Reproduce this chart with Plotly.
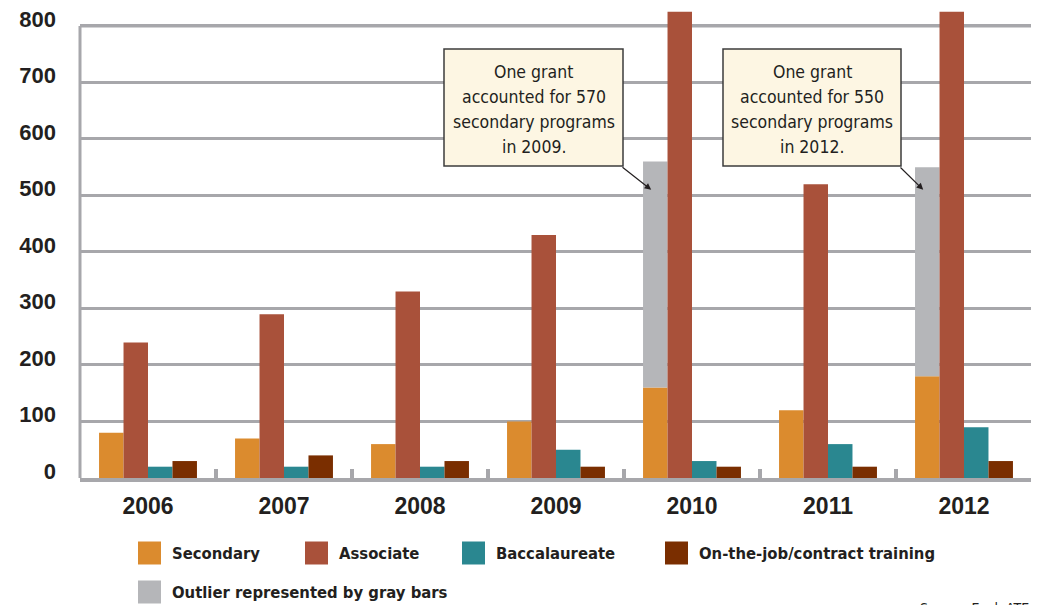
import plotly.graph_objects as go

# Data
YEARS = ['2006', '2007', '2008', '2009', '2010', '2011', '2012']
SECONDARY = [80, 70, 60, 100, 160, 120, 180]
OUTLIER = [None, None, None, None, 400, None, 370]
ASSOCIATE = [240, 290, 330, 430, 825, 520, 825]
BACCALAUREATE = [20, 20, 20, 50, 30, 60, 90]
ON_THE_JOB = [30, 40, 30, 20, 20, 20, 30]
Y_TICKS = [0, 100, 200, 300, 400, 500, 600, 700, 800]

COLORS = {
    'secondary': '#db8b2e',
    'associate': '#a9513a',
    'baccalaureate': '#2a8790',
    'onthejob': '#7a2e00',
    'outlier': '#b5b6b9',
    'grid': '#a7a7ab',
    'text': '#231f20',
    'note_bg': '#fdf6e3',
}

NUM_FONT = 'Liberation Sans, Arial, sans-serif'
TXT_FONT = 'DejaVu Sans Condensed, Liberation Sans, sans-serif'

# page offsets the figure by 8px, so the figure is 8px smaller than the window
W, H = 1031, 597
L, R, T, B = 72, 7, 1, 127
PW, PH = W - L - R, H - T - B
Y_MAX = 830


# helpers: reference-window pixels -> paper coords
def px_x(x):
    return (x - 8 - L) / PW


def px_y(y):
    return (H - B - (y - 8)) / PH


fig = go.Figure()

outlier_base = [s if o is not None else None for s, o in zip(SECONDARY, OUTLIER)]

fig.add_trace(go.Bar(x=YEARS, y=SECONDARY, name='Secondary', offsetgroup='sec',
                     marker_color=COLORS['secondary'], marker_line_width=0))
fig.add_trace(go.Bar(x=YEARS, y=OUTLIER, base=outlier_base, name='Outlier represented by gray bars',
                     offsetgroup='sec', marker_color=COLORS['outlier'], marker_line_width=0))
fig.add_trace(go.Bar(x=YEARS, y=ASSOCIATE, name='Associate', offsetgroup='asc',
                     marker_color=COLORS['associate'], marker_line_width=0))
fig.add_trace(go.Bar(x=YEARS, y=BACCALAUREATE, name='Baccalaureate', offsetgroup='bac',
                     marker_color=COLORS['baccalaureate'], marker_line_width=0))
fig.add_trace(go.Bar(x=YEARS, y=ON_THE_JOB, name='On-the-job/contract training', offsetgroup='ojt',
                     marker_color=COLORS['onthejob'], marker_line_width=0))

fig.update_layout(
    width=W, height=H,
    margin=dict(l=L, r=R, t=T, b=B),
    plot_bgcolor='white', paper_bgcolor='white',
    barmode='group', bargap=0.28, bargroupgap=0,
    showlegend=False,
    font=dict(family=TXT_FONT, color=COLORS['text']),
)

fig.update_yaxes(
    range=[0, Y_MAX], tickvals=Y_TICKS, automargin=False,
    showgrid=True, gridcolor=COLORS['grid'], gridwidth=3,
    zeroline=False, showline=False,
    ticks='', ticklabelstandoff=23, ticklabelshift=-7, ticklabeloverflow='allow',
    tickfont=dict(size=22, family=NUM_FONT, weight='bold', color=COLORS['text']),
)
fig.update_xaxes(
    automargin=False,
    showgrid=False, showline=True, linecolor=COLORS['grid'], linewidth=4,
    ticks='inside', tickson='boundaries', ticklen=9, tickwidth=4, tickcolor=COLORS['grid'],
    ticklabelstandoff=4,
    tickfont=dict(size=23, family=NUM_FONT, weight='bold', color=COLORS['text']),
)

# left axis line and top gridline stop at 800
fig.add_shape(type='line', xref='paper', yref='y', x0=0, x1=0, y0=0, y1=Y_TICKS[-1],
              line=dict(color=COLORS['grid'], width=3), layer='below')
fig.add_shape(type='line', xref='paper', yref='y', x0=0, x1=1, y0=Y_TICKS[-1], y1=Y_TICKS[-1],
              line=dict(color=COLORS['grid'], width=3), layer='below')

# Callout notes: (lines, box left, box right, box top, box bottom, arrow head x, head y)
notes = [
    (['One grant', 'accounted for 570', 'secondary programs', 'in 2009.'], 444, 623, 49, 166, 3.7, 510),
    (['One grant', 'accounted for 550', 'secondary programs', 'in 2012.'], 723, 901, 49, 166, 5.7, 510),
]
for lines, bx0, bx1, by0, by1, hx, hy in notes:
    fig.add_shape(type='rect', xref='paper', yref='paper',
                  x0=px_x(bx0), x1=px_x(bx1), y0=px_y(by1), y1=px_y(by0),
                  fillcolor=COLORS['note_bg'], line=dict(color='#3c3c3c', width=1.5))
    cx = (bx0 + bx1) / 2
    for i, line in enumerate(lines):
        fig.add_annotation(x=px_x(cx), y=px_y(by0 + 23 + 25 * i), xref='paper', yref='paper',
                           text=line, showarrow=False, xanchor='center', yanchor='middle',
                           font=dict(size=17.5, family=TXT_FONT, color=COLORS['text']))
    head_x = L + 8 + (hx + 0.5) / len(YEARS) * PW
    head_y = 8 + T + (1 - hy / Y_MAX) * PH
    fig.add_annotation(x=hx, y=hy, xref='x', yref='y', text='',
                       showarrow=True, arrowhead=2, arrowsize=1.1, arrowwidth=1.2,
                       arrowcolor=COLORS['text'],
                       ax=bx1 - 2 - head_x, ay=by1 - head_y)

# Manual legend
legend_items = [
    ('Secondary', COLORS['secondary'], 138, 553),
    ('Associate', COLORS['associate'], 305, 553),
    ('Baccalaureate', COLORS['baccalaureate'], 462, 553),
    ('On-the-job/contract training', COLORS['onthejob'], 665, 553),
    ('Outlier represented by gray bars', COLORS['outlier'], 138, 592),
]
for label, color, x0, yc in legend_items:
    fig.add_shape(type='rect', xref='paper', yref='paper',
                  x0=px_x(x0), x1=px_x(x0 + 23), y0=px_y(yc + 11.5), y1=px_y(yc - 11.5),
                  fillcolor=color, line_width=0)
    fig.add_annotation(x=px_x(x0 + 32), y=px_y(yc), xref='paper', yref='paper',
                       text=label, showarrow=False, xanchor='left', yanchor='middle',
                       font=dict(size=16.5, family=TXT_FONT, weight='bold', color=COLORS['text']))

fig.add_annotation(x=px_x(918), y=px_y(598), xref='paper', yref='paper',
                   text='Source: EvaluATE', showarrow=False, xanchor='left', yanchor='top',
                   font=dict(size=14, family=TXT_FONT, color=COLORS['text']))

fig.write_html('out.html')
